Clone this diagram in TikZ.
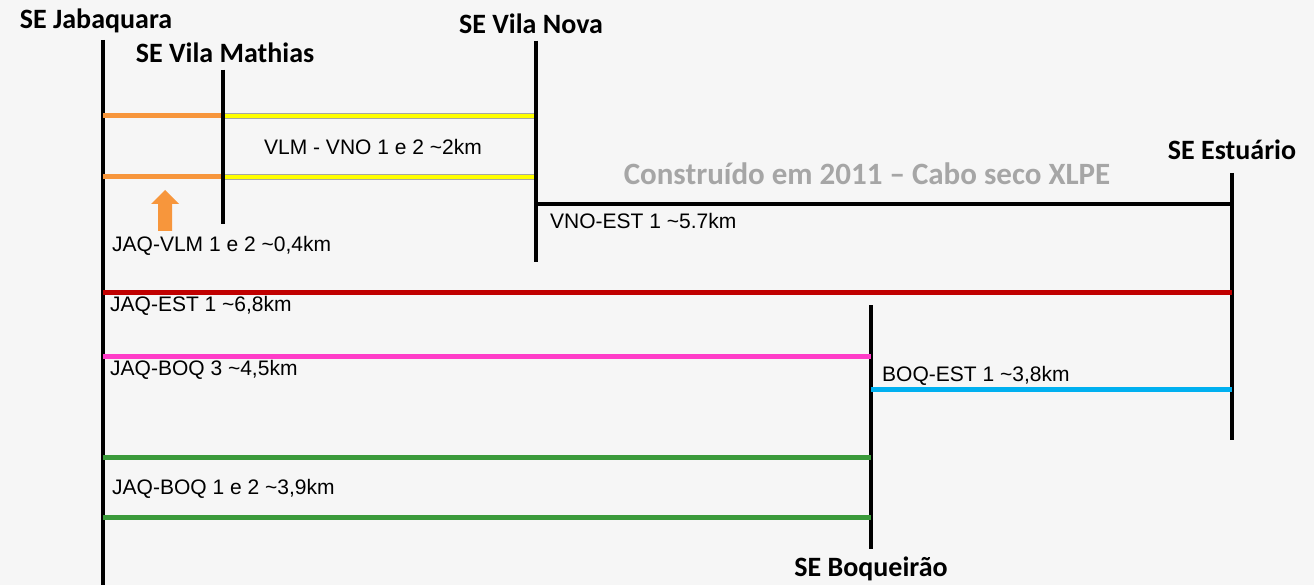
\documentclass[tikz,border=0pt]{standalone}
\usepackage{fontspec}
\setmainfont{Liberation Sans}
\newfontfamily\calibri{Carlito}
\usepackage{xcolor}
\usepackage{tikz}
\usetikzlibrary{positioning}

\definecolor{sfondo}{HTML}{F6F6F6}
\definecolor{arancio}{HTML}{F7963C}
\definecolor{giallo}{HTML}{FFFF00}
\definecolor{rossoscuro}{HTML}{C00000}
\definecolor{magenta}{HTML}{FF3CC8}
\definecolor{ciano}{HTML}{00B0F0}
\definecolor{verde}{HTML}{3A9A3A}
\definecolor{grigiotesto}{HTML}{A6A6A6}

\begin{document}
\begin{tikzpicture}[x=1pt, y=-1pt,
        barra/.style={draw=black, line width=4pt},
        linea/.style={line width=5pt},
        stazione/.style={font=\calibri\bfseries\fontsize{28}{32}\selectfont, inner sep=0pt},
        etichetta/.style={font=\fontsize{21}{24}\selectfont, inner sep=0pt, anchor=west}]

        % Sfondo e cornice
        \useasboundingbox (0,0) rectangle (1314,585);
        \fill[sfondo] (0,0) rectangle (1314,585);

        % Estremi delle barre
        \coordinate (jaqtop) at (103,40);
        \coordinate (jaqbot) at (103,585);
        \coordinate (vlmtop) at (223,70);
        \coordinate (vlmbot) at (223,224);
        \coordinate (vnotop) at (536,41);
        \coordinate (vnobot) at (536,262);
        \coordinate (esttop) at (1232,173);
        \coordinate (estbot) at (1232,440);
        \coordinate (boqtop) at (871,305);
        \coordinate (boqbot) at (871,549);

        % Barre delle sottostazioni
        \draw[barra] (jaqtop) -- (jaqbot);
        \draw[barra] (vlmtop) -- (vlmbot);
        \draw[barra] (vnotop) -- (vnobot);
        \draw[barra] (esttop) -- (estbot);
        \draw[barra] (boqtop) -- (boqbot);

        % Nomi delle sottostazioni
        \node[stazione, above=7pt of jaqtop, xshift=-7pt] (jaq) {SE Jabaquara};
        \node[stazione, above=7pt of vlmtop, xshift=2pt] (vlm) {SE Vila Mathias};
        \node[stazione, above=7pt of vnotop, xshift=-5pt] (vno) {SE Vila Nova};
        \node[stazione, above=13pt of esttop] (est) {SE Estuário};
        \node[stazione, below=8pt of boqbot] (boq) {SE Boqueirão};

        % Punti di attacco delle linee
        \coordinate (jaq1) at (jaqtop |- 0,116);
        \coordinate (vlm1) at (vlmtop |- 0,116);
        \coordinate (vno1) at (vnotop |- 0,116);
        \coordinate (jaq2) at (jaqtop |- 0,177);
        \coordinate (vlm2) at (vlmtop |- 0,177);
        \coordinate (vno2) at (vnotop |- 0,177);
        \coordinate (vno3) at (vnotop |- 0,204);
        \coordinate (est3) at (esttop |- 0,204);
        \coordinate (jaq4) at (jaqtop |- 0,293);
        \coordinate (est4) at (esttop |- 0,293);
        \coordinate (jaq5) at (jaqtop |- 0,356);
        \coordinate (boq5) at (boqtop |- 0,356);
        \coordinate (boq6) at (boqtop |- 0,389);
        \coordinate (est6) at (esttop |- 0,389);
        \coordinate (jaq7) at (jaqtop |- 0,457);
        \coordinate (boq7) at (boqtop |- 0,457);
        \coordinate (jaq8) at (jaqtop |- 0,517);
        \coordinate (boq8) at (boqtop |- 0,517);

        % Linee
        \draw[linea, color=arancio] (jaq1) -- (vlm1);
        \draw[linea, color=arancio] (jaq2) -- (vlm2);
        \draw[line width=0.6pt, draw=gray!70, double=giallo, double distance=4.2pt] (vlm1) -- (vno1);
        \draw[line width=0.6pt, draw=gray!70, double=giallo, double distance=4.2pt] (vlm2) -- (vno2);
        \draw[line width=4pt, color=black] (vno3) -- (est3);
        \draw[linea, color=rossoscuro] (jaq4) -- (est4);
        \draw[linea, color=magenta] (jaq5) -- (boq5);
        \draw[linea, color=ciano] (boq6) -- (est6);
        \draw[linea, color=verde] (jaq7) -- (boq7);
        \draw[linea, color=verde] (jaq8) -- (boq8);

        % Ridisegna le barre sopra le linee
        \draw[barra] (vlmtop) -- (vlmbot);
        \draw[barra] (vnotop) -- (vnobot);

        % Freccia arancione
        \fill[arancio] (158,231) -- (158,204) -- (151,204) -- (165,190) -- (179,204) -- (172,204) -- (172,231) -- cycle;

        % Etichette
        \node[etichetta, anchor=center] (lvlmvno) at (373,147) {VLM - VNO 1 e 2 \textasciitilde2km};
        \node[etichetta] (ljaqvlm) at (112,246) {JAQ-VLM 1 e 2 \textasciitilde0,4km};
        \node[etichetta] (lvnoest) at (550,221) {VNO-EST 1 \textasciitilde5.7km};
        \node[etichetta] (ljaqest) at (110,306) {JAQ-EST 1 \textasciitilde6,8km};
        \node[etichetta] (ljaqboq3) at (110,370) {JAQ-BOQ 3 \textasciitilde4,5km};
        \node[etichetta] (lboqest) at (882,376) {BOQ-EST 1 \textasciitilde3,8km};
        \node[etichetta] (ljaqboq) at (112,489) {JAQ-BOQ 1 e 2 \textasciitilde3,9km};
        \node[font=\calibri\bfseries\fontsize{31}{36}\selectfont, color=grigiotesto, inner sep=0pt] (nota) at (867,174) {Construído em 2011 – Cabo seco XLPE};

    \end{tikzpicture}
\end{document}
